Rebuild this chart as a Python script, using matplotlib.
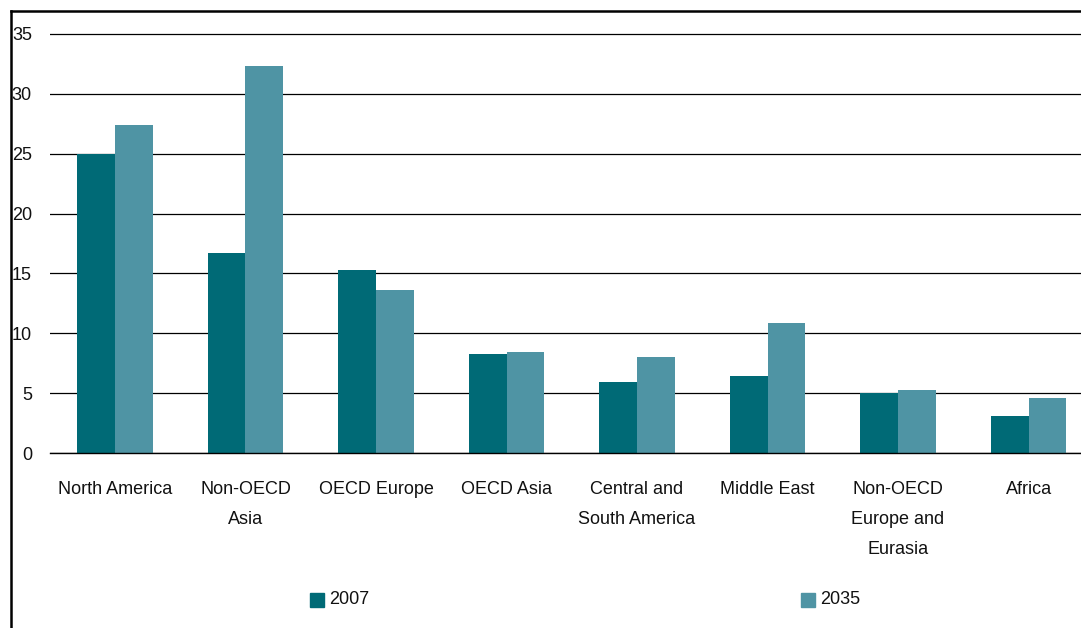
import matplotlib
matplotlib.use("Agg")
import matplotlib.pyplot as plt
from matplotlib.lines import Line2D
from matplotlib.patches import Rectangle

regions = ["North America", "Non-OECD\nAsia", "OECD Europe", "OECD Asia",
           "Central and\nSouth America", "Middle East",
           "Non-OECD\nEurope and\nEurasia", "Africa"]
vals_2007 = [25.0, 16.7, 15.3, 8.3, 5.9, 6.4, 5.0, 3.1]
vals_2035 = [27.4, 32.3, 13.6, 8.4, 8.0, 10.9, 5.3, 4.6]
yticks = [0, 5, 10, 15, 20, 25, 30, 35]

c2007 = "#006a76"
c2035 = "#4f94a4"

plt.rcParams['font.family'] = ['Liberation Sans Narrow', 'Liberation Sans', 'DejaVu Sans']

W, H = 1081, 628
fig = plt.figure(figsize=(W / 100, H / 100), dpi=100)

# plot area in pixels: y=0 at 453, ~11.97 px per unit
ax = fig.add_axes([50 / W, (H - 453) / H, 1 - 50 / W, (453 - 30.4) / H])
x = list(range(len(regions)))
w = 0.29
ax.bar([i - w / 2 for i in x], vals_2007, width=w, color=c2007, zorder=3)
ax.bar([i + w / 2 for i in x], vals_2035, width=w, color=c2035, zorder=3)

ax.set_xlim(-0.498, 7.402)
ax.set_ylim(0, 35.3)
ax.set_yticks(yticks)
ax.set_yticklabels([str(t) for t in yticks], fontsize=13, color="#111111")
ax.tick_params(axis="y", length=0, pad=13)
ax.set_xticks(x)
ax.set_xticklabels(regions, fontsize=13, color="#111111", linespacing=2.0, va="top")
ax.tick_params(axis="x", length=0, pad=20)
for lab in ax.get_xticklabels():
    lab.set_ha("center")

ax.yaxis.grid(True, color="black", linewidth=0.9, zorder=0)
for s in ["top", "right", "left"]:
    ax.spines[s].set_visible(False)
ax.spines["bottom"].set_color("black")
ax.spines["bottom"].set_linewidth(1.0)
ax.spines["bottom"].set_zorder(4)

# legend entries spread across the bottom
for px, col, lab in [(310, c2007, "2007"), (801, c2035, "2035")]:
    fig.add_artist(Rectangle((px / W, (H - 607) / H), 14 / W, 14 / H,
                             transform=fig.transFigure, color=col))
    fig.text((px + 19) / W, (H - 600) / H, lab, fontsize=13, va="center",
             ha="left", color="#111111")

# outer frame (left and top edges)
fig.add_artist(Line2D([11 / W, 11 / W], [0, (H - 11) / H], color="black",
                      linewidth=1.8, transform=fig.transFigure))
fig.add_artist(Line2D([11 / W, 1], [(H - 11) / H, (H - 11) / H], color="black",
                      linewidth=1.8, transform=fig.transFigure))

fig.savefig("out.png", dpi=100)
